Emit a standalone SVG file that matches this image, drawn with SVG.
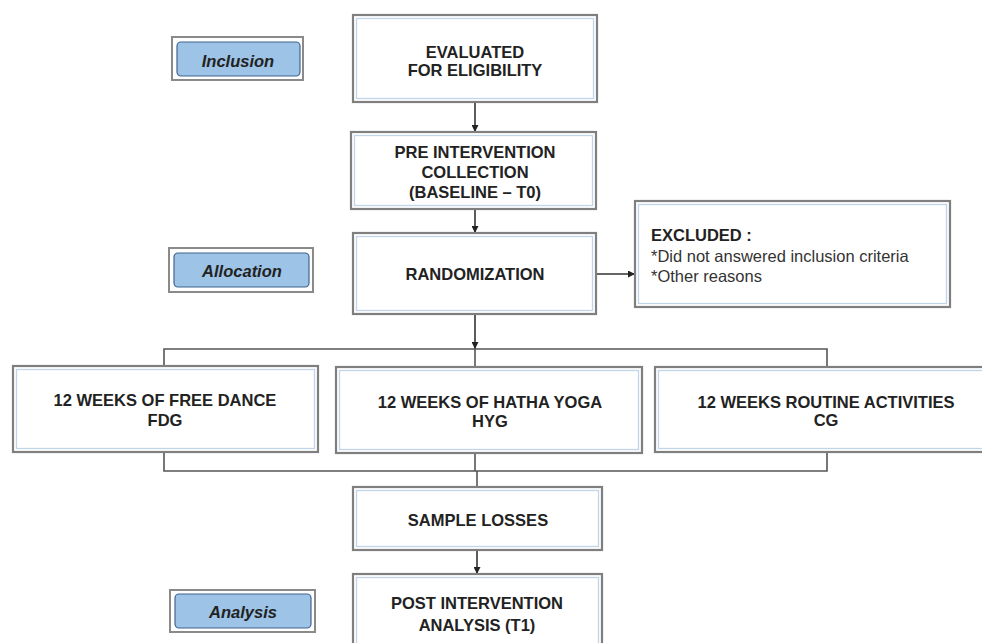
<svg xmlns="http://www.w3.org/2000/svg" width="982" height="643" viewBox="0 0 982 643">
<defs>
<marker id="ah" viewBox="0 0 10 10" refX="10" refY="5" markerWidth="7" markerHeight="7" markerUnits="userSpaceOnUse" orient="auto">
<path d="M0,0 L10,5 L0,10 z" fill="#222"/>
</marker>
</defs>
<style>
.frame{fill:#fff;stroke:#7f7f7f;stroke-width:2.2}
.inner{fill:#fff;stroke:#c2d4ea;stroke-width:1.3}
.lframe{fill:#fff;stroke:#8a8a8a;stroke-width:2}
.lbox{fill:#9dc3e6;stroke:#41648f;stroke-width:1.2}
.t{font-family:"Liberation Sans",Arial,sans-serif;font-size:16.5px;font-weight:bold;fill:#222;text-anchor:middle}
.r{font-family:"Liberation Sans",Arial,sans-serif;font-size:16.5px;fill:#333}
.rb{font-family:"Liberation Sans",Arial,sans-serif;font-size:16.5px;font-weight:bold;fill:#222}
.lt{font-family:"Liberation Sans",Arial,sans-serif;font-size:16.5px;font-weight:bold;font-style:italic;fill:#222;text-anchor:middle}
.c{fill:none;stroke:#555;stroke-width:1.6}
.a{fill:none;stroke:#333;stroke-width:1.6;marker-end:url(#ah)}
</style>

<g id="connectors">
<line class="a" x1="475" y1="102" x2="475" y2="132"/>
<line class="a" x1="475" y1="209" x2="475" y2="233"/>
<line class="a" x1="596" y1="274" x2="635" y2="274"/>
<line class="a" x1="475" y1="314" x2="475" y2="349"/>
<polyline class="c" points="164,366 164,349 827,349 827,367"/>
<line class="c" x1="475" y1="349" x2="475" y2="367"/>
<polyline class="c" points="164,452 164,471 827,471 827,452"/>
<line class="c" x1="475" y1="453" x2="475" y2="471"/>
<line class="c" x1="477" y1="471" x2="477" y2="487"/>
<line class="a" x1="477" y1="550" x2="477" y2="574"/>
</g>

<g id="label-inclusion">
<rect class="lframe" x="172" y="37" width="131" height="43"/>
<rect class="lbox" x="177" y="42" width="123" height="34" rx="4"/>
<text class="lt" x="238" y="67">Inclusion</text>
</g>

<g id="label-allocation">
<rect class="lframe" x="169" y="248" width="144" height="44"/>
<rect class="lbox" x="174" y="253" width="135" height="34" rx="4"/>
<text class="lt" x="242" y="277">Allocation</text>
</g>

<g id="label-analysis">
<rect class="lframe" x="170" y="590" width="145" height="42"/>
<rect class="lbox" x="175" y="594" width="136" height="34" rx="4"/>
<text class="lt" x="243" y="618">Analysis</text>
</g>

<g id="evaluated">
<rect class="frame" x="353" y="15" width="244" height="87"/>
<rect class="inner" x="356.5" y="18.5" width="237" height="80"/>
<text class="t" x="475" y="58">EVALUATED</text>
<text class="t" x="475" y="76">FOR ELIGIBILITY</text>
</g>

<g id="pre-intervention">
<rect class="frame" x="351" y="132" width="245" height="77"/>
<rect class="inner" x="354.5" y="135.5" width="238" height="70"/>
<text class="t" x="475" y="158">PRE INTERVENTION</text>
<text class="t" x="475" y="178">COLLECTION</text>
<text class="t" x="475" y="198">(BASELINE – T0)</text>
</g>

<g id="randomization">
<rect class="frame" x="353" y="233" width="243" height="81"/>
<rect class="inner" x="356.5" y="236.5" width="236" height="74"/>
<text class="t" x="475" y="280">RANDOMIZATION</text>
</g>

<g id="excluded">
<rect class="frame" x="635" y="201" width="315" height="106"/>
<rect class="inner" x="638.5" y="204.5" width="308" height="99"/>
<text class="rb" x="651" y="241">EXCLUDED :</text>
<text class="r" x="651" y="262">*Did not answered inclusion criteria</text>
<text class="r" x="651" y="282">*Other reasons</text>
</g>

<g id="fdg">
<rect class="frame" x="13" y="366" width="305" height="86"/>
<rect class="inner" x="16.5" y="369.5" width="298" height="79"/>
<text class="t" x="165" y="406">12 WEEKS OF FREE DANCE</text>
<text class="t" x="165" y="426">FDG</text>
</g>

<g id="hyg">
<rect class="frame" x="336" y="367" width="306" height="86"/>
<rect class="inner" x="339.5" y="370.5" width="299" height="79"/>
<text class="t" x="490" y="408">12 WEEKS OF HATHA YOGA</text>
<text class="t" x="490" y="427">HYG</text>
</g>

<g id="cg">
<rect class="frame" x="655" y="367" width="340" height="85"/>
<rect class="inner" x="658.5" y="370.5" width="333" height="78"/>
<text class="t" x="826" y="408">12 WEEKS ROUTINE ACTIVITIES</text>
<text class="t" x="826" y="426">CG</text>
</g>

<g id="sample-losses">
<rect class="frame" x="353" y="487" width="249" height="63"/>
<rect class="inner" x="356.5" y="490.5" width="242" height="56"/>
<text class="t" x="478" y="526">SAMPLE LOSSES</text>
</g>

<g id="post-intervention">
<rect class="frame" x="353" y="574" width="249" height="80"/>
<rect class="inner" x="356.5" y="577.5" width="242" height="73"/>
<text class="t" x="477" y="609">POST INTERVENTION</text>
<text class="t" x="477" y="631">ANALYSIS (T1)</text>
</g>
</svg>
